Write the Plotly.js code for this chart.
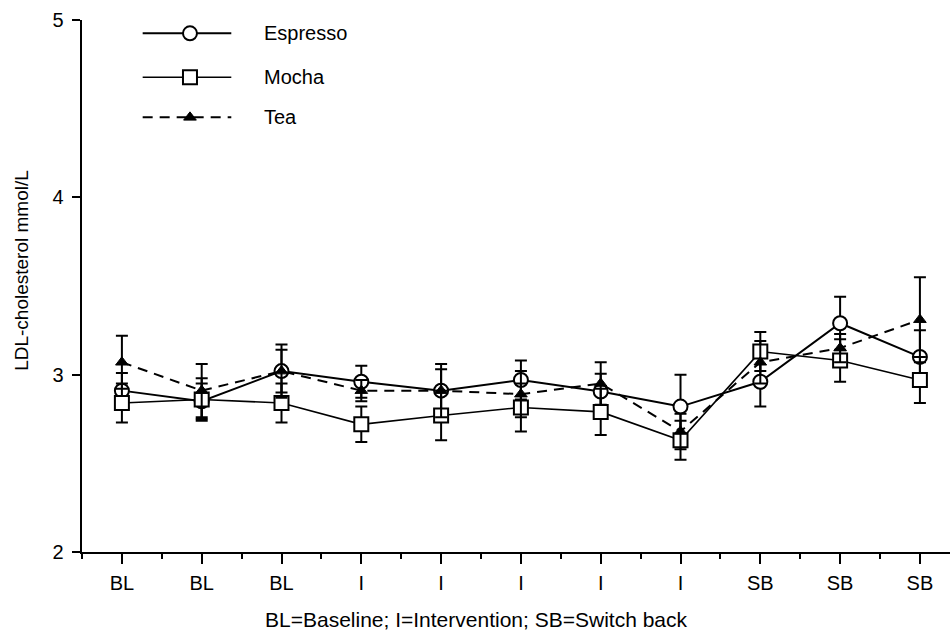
<!DOCTYPE html>
<html>
<head>
<meta charset="utf-8">
<script src="https://cdn.plot.ly/plotly-3.0.1.min.js"></script>
<style>html,body{margin:0;padding:0;background:#fff;}#chart{width:950px;height:635px;}</style>
</head>
<body>
<div id="chart"></div>
<script>
// ---- data ----
const categories = ['BL','BL','BL','I','I','I','I','I','SB','SB','SB'];
const espresso    = [2.91, 2.85, 3.02, 2.96, 2.91, 2.97, 2.905, 2.82, 2.96, 3.29, 3.10];
const espressoErr = [0.10, 0.10, 0.12, 0.09, 0.12, 0.11, 0.10, 0.18, 0.14, 0.15, 0.15];
const mocha       = [2.84, 2.86, 2.84, 2.72, 2.77, 2.815, 2.79, 2.63, 3.13, 3.08, 2.97];
const mochaErr    = [0.11, 0.12, 0.11, 0.10, 0.14, 0.135, 0.13, 0.11, 0.11, 0.12, 0.13];
const tea         = [3.07, 2.91, 3.02, 2.91, 2.91, 2.89, 2.95, 2.68, 3.07, 3.15, 3.31];
const teaErr      = [0.15, 0.15, 0.15, 0.06, 0.15, 0.13, 0.12, 0.10, 0.12, 0.08, 0.24];
const seriesNames = ['Espresso', 'Mocha', 'Tea'];
const yTicks = [2, 3, 4, 5];
const yLabel = 'LDL-cholesterol mmol/L';
const caption = 'BL=Baseline; I=Intervention; SB=Switch back';

const xIdx = categories.map((_, i) => i);
const FONT = 'Liberation Sans, Arial, Helvetica, sans-serif';

function errBar(arr) {
  return {type: 'data', array: arr, visible: true, color: '#000', thickness: 2, width: 6};
}

const styles = [
  {line: {color: '#000', width: 2}, marker: {symbol: 'circle', size: 14, color: '#fff', line: {color: '#000', width: 2}}},
  {line: {color: '#000', width: 1.6}, marker: {symbol: 'square', size: 14, color: '#fff', line: {color: '#000', width: 2}}},
  {line: {color: '#000', width: 2, dash: '10px,7px'}, marker: {symbol: 'triangle-up', size: 11, color: '#000', line: {color: '#000', width: 1}}}
];
const values = [espresso, mocha, tea];
const errs = [espressoErr, mochaErr, teaErr];

const traces = values.map((v, i) => Object.assign({
  x: xIdx, y: v, name: seriesNames[i], mode: 'lines+markers', showlegend: false,
  error_y: errBar(errs[i]), cliponaxis: false
}, styles[i]));

// custom legend (overlay axes in 0..1 space)
const legX = [0.0699, 0.1244, 0.172];
const legY = [0.975, 0.8925, 0.817];
const annotations = [];
seriesNames.forEach((n, i) => {
  traces.push({x: [legX[0], legX[2]], y: [legY[i], legY[i]], xaxis: 'x2', yaxis: 'y2',
    mode: 'lines', line: styles[i].line, showlegend: false, hoverinfo: 'skip'});
  traces.push({x: [legX[1]], y: [legY[i]], xaxis: 'x2', yaxis: 'y2',
    mode: 'markers', marker: styles[i].marker, showlegend: false, hoverinfo: 'skip'});
  annotations.push({xref: 'paper', yref: 'paper', x: 0.207, y: legY[i], xanchor: 'left', yanchor: 'middle',
    text: n, showarrow: false, font: {family: FONT, size: 20, color: '#000'}});
});
annotations.push({xref: 'paper', yref: 'paper', x: 0.454, y: -0.127, xanchor: 'center', yanchor: 'middle',
  text: caption, showarrow: false, font: {family: FONT, size: 21, color: '#000'}});
annotations.push({xref: 'paper', yref: 'paper', x: -0.0705, y: 0.53, xanchor: 'center', yanchor: 'middle',
  text: yLabel, textangle: -90, showarrow: false, font: {family: FONT, size: 19, color: '#000'}});

const layout = {
  width: 950, height: 635,
  margin: {l: 82, r: 0, t: 20, b: 83, pad: 0},
  paper_bgcolor: '#fff', plot_bgcolor: '#fff',
  font: {family: FONT, size: 20, color: '#000'},
  showlegend: false,
  xaxis: {
    range: [-0.5, 10.377], showgrid: false, zeroline: false,
    showline: true, linecolor: '#000', linewidth: 2,
    tickmode: 'array', tickvals: xIdx, ticktext: categories,
    ticks: 'outside', ticklen: 10, tickwidth: 2, tickcolor: '#000',
    ticklabelstandoff: 2,
    tickfont: {family: FONT, size: 20, color: '#000'},
    minor: {ticks: 'outside', ticklen: 5, tickwidth: 2, tickcolor: '#000', tickmode: 'linear', tick0: 0.5, dtick: 1, showgrid: false},
    automargin: false, fixedrange: true
  },
  yaxis: {
    range: [2, 5], showgrid: false, zeroline: false,
    showline: true, linecolor: '#000', linewidth: 2.5,
    tickmode: 'array', tickvals: yTicks,
    ticks: 'outside', ticklen: 8, tickwidth: 2, tickcolor: '#000',
    ticklabelstandoff: 4,
    tickfont: {family: FONT, size: 20, color: '#000'},
    automargin: false, fixedrange: true
  },
  xaxis2: {overlaying: 'x', range: [0, 1], visible: false, fixedrange: true},
  yaxis2: {overlaying: 'y', range: [0, 1], visible: false, fixedrange: true},
  annotations: annotations
};

Plotly.newPlot('chart', traces, layout, {staticPlot: true, displayModeBar: false});
</script>
</body>
</html>
